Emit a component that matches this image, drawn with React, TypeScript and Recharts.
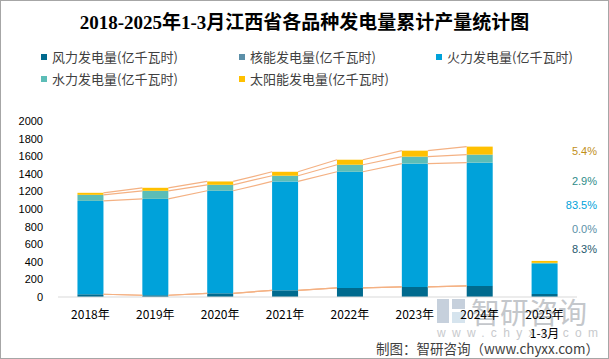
import React from 'react';
import { BarChart, Bar, XAxis, YAxis, ReferenceLine } from 'recharts';

const years = ['2018年', '2019年', '2020年', '2021年', '2022年', '2023年', '2024年', '2025年'];
const periodNotes = ['', '', '', '', '', '', '', '1-3月'];
const wind = [31, 20, 42, 76, 103, 114, 126, 34];
const nuclear = [0, 0, 0, 0, 0, 0, 0, 0];
const thermal = [1061, 1095, 1165, 1237, 1320, 1401, 1400, 342];
const hydro = [69, 92, 68, 65, 80, 80, 92, 12];
const solar = [23, 34, 38, 45, 57, 68, 91, 22];
const yTicks = [0, 200, 400, 600, 800, 1000, 1200, 1400, 1600, 1800, 2000];
const shareLabels = ['5.4%', '2.9%', '83.5%', '0.0%', '8.3%'];
const title = '2018-2025年1-3月江西省各品种发电量累计产量统计图';
const source = '制图：智研咨询（www.chyxx.com）';

const seriesNames = ['风力发电量(亿千瓦时)', '核能发电量(亿千瓦时)', '火力发电量(亿千瓦时)', '水力发电量(亿千瓦时)', '太阳能发电量(亿千瓦时)'];
const seriesKeys = ['wind', 'nuclear', 'thermal', 'hydro', 'solar'];
const seriesValues = [wind, nuclear, thermal, hydro, solar];
const colors = ['#006A8E', '#5B8FA8', '#00A2DA', '#5CBDB7', '#FFC000'];
const shareColors = ['#BF8F1A', '#2E8C8A', '#00A2DA', '#5B8FA8', '#1F5A6E'];

const data = years.map((y, i) => ({
  year: y,
  pos: i + 0.5,
  wind: wind[i],
  nuclear: nuclear[i],
  thermal: thermal[i],
  hydro: hydro[i],
  solar: solar[i],
}));

// cumulative tops per series
const cumulative = seriesValues.map((_, k) =>
  years.map((_, i) => seriesValues.slice(0, k + 1).reduce((s, arr) => s + arr[i], 0))
);

const lineSegments: { x1: number; y1: number; x2: number; y2: number }[] = [];
for (let i = 0; i < 6; i++) {
  cumulative.forEach((c) => {
    lineSegments.push({ x1: i + 0.7, y1: c[i], x2: i + 1.3, y2: c[i + 1] });
  });
}

const sansFont = '"Liberation Sans", "Noto Sans CJK SC", sans-serif';

const XTick = (props: any) => {
  const { x, y, payload } = props;
  const idx = years.indexOf(payload.value);
  const note = idx >= 0 ? periodNotes[idx] : '';
  return (
    <g>
      <text x={x} y={y + 16} textAnchor="middle" dominantBaseline="central" fontSize={12} fill="#000" fontFamily={'"Noto Sans CJK SC", sans-serif'}>
        {payload.value}
      </text>
      {note ? (
        <text x={x} y={y + 35} textAnchor="middle" dominantBaseline="central" fontSize={12} fill="#000" fontFamily={'"Noto Sans CJK SC", sans-serif'}>
          {note}
        </text>
      ) : null}
    </g>
  );
};

const legendPos = [
  { left: 41, top: 57 },
  { left: 239, top: 57 },
  { left: 436, top: 57 },
  { left: 41, top: 79 },
  { left: 239, top: 79 },
];

const sharePos = [151, 181, 205, 229, 249];

export default function App() {
  return (
    <div style={{ position: 'absolute', left: 0, top: 0, width: 609, height: 359, background: '#fff', overflow: 'hidden' }}>
      {/* watermark */}
      <div style={{ position: 'absolute', left: 437, top: 299, width: 30, height: 24 }}>
        <div style={{ position: 'absolute', left: 0, top: 0, width: 12, height: 24, background: '#C6D0DC' }} />
        <div style={{ position: 'absolute', left: 15, top: 0, width: 13, height: 10, background: '#C6D0DC' }} />
        <div style={{ position: 'absolute', left: 15, top: 13, width: 13, height: 11, background: '#D6E4EE' }} />
      </div>
      <div style={{ position: 'absolute', left: 471, top: 294, fontSize: 29, color: '#C4C7CB', fontFamily: '"Noto Sans CJK SC", sans-serif', lineHeight: '34px', whiteSpace: 'nowrap' }}>
        智研咨询
      </div>
      <div style={{ position: 'absolute', left: 437, top: 325, fontSize: 12, color: '#C8CACD', fontFamily: sansFont, letterSpacing: '6.3px', whiteSpace: 'nowrap', lineHeight: '16px' }}>
        www.chyxx.com
      </div>

      <div style={{ position: 'absolute', left: 0, top: 0 }}>
        <BarChart width={609} height={359} data={data} margin={{ top: 121, right: 32, bottom: 32, left: 0 }} barCategoryGap="30%">
          <XAxis
            dataKey="year"
            height={30}
            tickLine={false}
            tickSize={0}
            tickMargin={0}
            axisLine={{ stroke: '#D9D9D9', strokeWidth: 1 }}
            tick={<XTick />}
            interval={0}
          />
          <XAxis xAxisId="n" dataKey="pos" type="number" domain={[0, 8]} allowDataOverflow hide />
          <YAxis
            width={58}
            domain={[0, 2000]}
            ticks={yTicks}
            interval={0}
            tickLine={false}
            axisLine={false}
            tickSize={0}
            tickMargin={15}
            tick={{ fontSize: 11, fill: '#000', fontFamily: sansFont }}
          />
          {seriesKeys.map((k, idx) => (
            <Bar key={k} dataKey={k} stackId="a" fill={colors[idx]} isAnimationActive={false} />
          ))}
          {lineSegments.map((s, idx) => (
            <ReferenceLine
              key={idx}
              xAxisId="n"
              segment={[{ x: s.x1, y: s.y1 }, { x: s.x2, y: s.y2 }]}
              stroke="#F4B183"
              strokeWidth={1.2}
              ifOverflow="visible"
            />
          ))}
        </BarChart>
      </div>

      {/* title */}
      <div style={{ position: 'absolute', left: 0, top: 10, width: 609, textAlign: 'center', fontSize: 19, fontWeight: 'bold', color: '#000', fontFamily: '"Liberation Serif", "Noto Sans CJK SC", serif', lineHeight: '26px', whiteSpace: 'nowrap' }}>
        {title}
      </div>

      {/* legend */}
      {seriesNames.map((n, i) => (
        <div key={n} style={{ position: 'absolute', left: legendPos[i].left, top: legendPos[i].top - 9, height: 18, display: 'flex', alignItems: 'center', whiteSpace: 'nowrap' }}>
          <div style={{ width: 6, height: 6, background: colors[i], marginRight: 5 }} />
          <span style={{ fontSize: 13, color: '#404040', fontFamily: '"Noto Sans CJK SC", sans-serif', lineHeight: '18px' }}>{n}</span>
        </div>
      ))}

      {/* shares */}
      {shareLabels.map((s, i) => (
        <div key={i} style={{ position: 'absolute', right: 12, top: sharePos[i] - 8, height: 16, lineHeight: '16px', fontSize: 11, color: shareColors[i], fontFamily: sansFont, textAlign: 'right' }}>
          {s}
        </div>
      ))}

      {/* source */}
      <div style={{ position: 'absolute', right: 10, top: 339, fontSize: 13.5, color: '#404040', fontFamily: '"Noto Sans CJK SC", sans-serif', lineHeight: '18px', whiteSpace: 'nowrap' }}>
        {source}
      </div>

      <div style={{ position: 'absolute', left: 0, top: 0, width: 609, height: 359, boxSizing: 'border-box', border: '1px solid #A6A6A6', pointerEvents: 'none' }} />
    </div>
  );
}
